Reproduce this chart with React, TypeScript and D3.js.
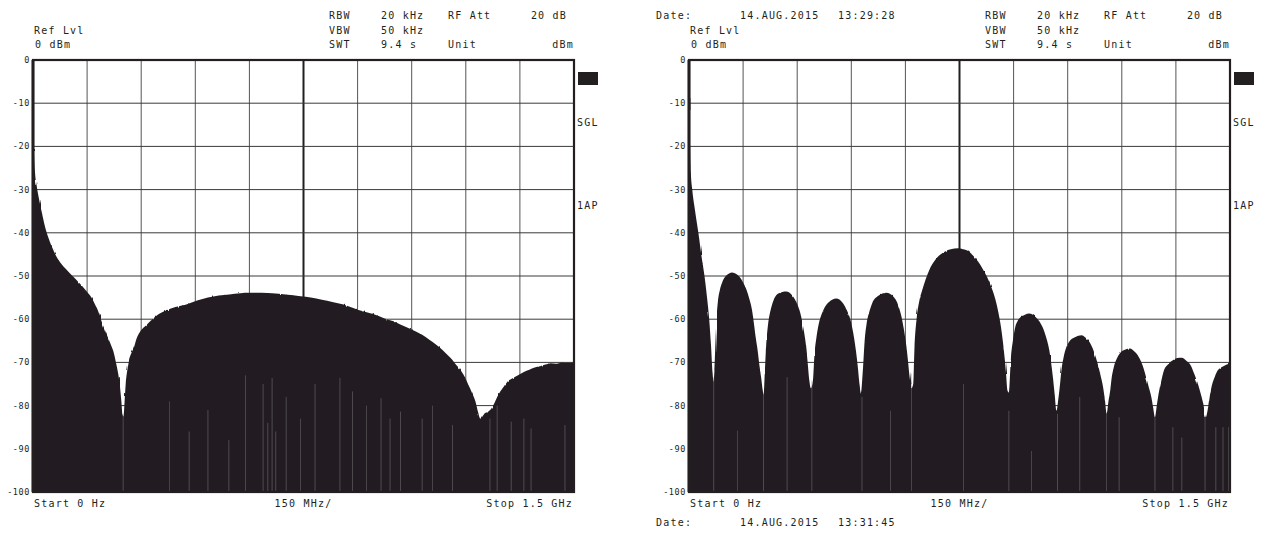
import React, { useEffect, useRef } from 'react';
import * as d3 from 'd3';

const INK = '#231f20';
const FONT = "'DejaVu Sans Mono', monospace";

// level axis (dBm) and frequency divisions (MHz)
const yTicks = [0, -10, -20, -30, -40, -50, -60, -70, -80, -90, -100];
const freqTicks = [0, 150, 300, 450, 600, 750, 900, 1050, 1200, 1350, 1500];

// left trace: envelope of the max-hold spectrum
const leftFreq = [0, 1.5, 3, 5.5, 10, 17.5, 25, 33, 42, 52, 63, 75, 95, 116, 133, 149, 162, 172, 180, 188, 196, 204, 214, 223, 230, 236, 241, 245, 248, 251,
  254, 257, 262, 266, 272, 280, 287, 296, 306, 316, 331, 345, 366, 395, 425, 455, 485, 515, 544, 575, 603, 635, 663, 700, 742, 770, 801, 830, 861, 880,
  900, 930, 960, 980, 1000, 1020, 1039, 1060, 1079, 1100, 1118, 1134, 1148, 1158, 1168, 1178, 1188, 1198, 1207, 1217, 1227, 1234, 1240, 1246, 1252, 1262,
  1270, 1277, 1287, 1296, 1306, 1316, 1331, 1346, 1361, 1376, 1391, 1406, 1421, 1436, 1451, 1466, 1481, 1500];
const leftLevel = [0, -15, -22, -26, -29, -32.5, -35.5, -38.5, -41, -43.2, -45.2, -46.8, -48.7, -50.5, -52, -53.6, -55, -56.6, -58, -60, -61.8, -63.5, -65.5, -67.5, -70, -72.5, -75.5, -79, -82, -82.5,
  -79, -75, -71.5, -69.5, -68, -66.5, -64.5, -63, -62, -61.2, -60, -59, -58.1, -57.2, -56.6, -55.7, -55, -54.5, -54.3, -54, -53.9, -53.9, -54, -54.3, -54.7, -55, -55.5, -56, -56.6, -57.2,
  -57.8, -58.5, -59.3, -60, -60.5, -61.3, -62, -62.8, -63.6, -64.8, -65.9, -67, -68.2, -69, -70, -71, -72.1, -73.5, -75.2, -77, -79.1, -81.5, -83, -82.5, -81.8, -81.4,
  -80.8, -79.8, -78, -76.7, -75.5, -74.4, -73.6, -72.9, -72.2, -71.7, -71.2, -70.9, -70.5, -70.2, -70.3, -70, -70.1, -70];

// left trace: columns where the trace does not reach the bottom
const leftGapFreq = [250, 379, 433, 485, 543, 589, 638, 651, 663, 673, 702, 742, 782, 851, 886, 925, 965, 990, 1019, 1079, 1108, 1163, 1267, 1287, 1326, 1361, 1381, 1475];
const leftGapTop = [-82, -79, -86, -81, -88, -73, -75, -84, -73.6, -86, -78, -83, -75, -73.6, -76.7, -80, -78.3, -83, -81.4, -83, -80, -84.5, -83, -80, -83.7, -83, -85.3, -84.5];

// right trace: sinc-like lobes
const rightFreq = [0, 1.5, 3, 5, 9, 17, 26, 34, 43, 50, 56, 61, 65.5, 68, 70.5, 75.5, 80, 85.4, 92, 100.3, 110, 120.2, 130, 140, 150, 159.9, 168, 174.8, 180, 184.8,
  190, 194.7, 200, 204.6, 207, 209.6, 214, 219.5, 226, 234.5, 249.3, 269.2, 289, 300, 308.9, 317, 323.8, 329, 333.7, 338, 343.6, 348, 353.5, 360, 368.5, 378,
  388.3, 408.1, 428, 438, 447.8, 455, 462.7, 468, 472.7, 477, 482.6, 487, 492.5, 500, 507.4, 525, 547.2, 567, 578, 587, 595, 601.8, 607, 611.7, 616.6,
  621.6, 625, 631.6, 638, 646.5, 656, 666.3, 680, 696.1, 710, 725.9, 745.8, 760, 775.6, 790, 805.4, 818, 830.2, 841, 850.1, 858, 865, 870, 875, 879, 883,
  887, 892.7, 898, 904.6, 912, 919.5, 930, 944.4, 955, 964.2, 975, 984.1, 992, 999, 1004, 1008.9, 1014, 1018.8, 1024, 1028.8, 1033, 1038.7, 1045, 1053.6,
  1070, 1088.4, 1100, 1113.2, 1124, 1133.1, 1141, 1148, 1153, 1158, 1163, 1167.9, 1172, 1177.8, 1187, 1197.7, 1210, 1222.5, 1235, 1247.4, 1258, 1267.2,
  1275, 1282.1, 1287, 1292, 1297, 1301.9, 1309, 1316.8, 1328, 1341.6, 1354, 1366.4, 1379, 1391.2, 1401, 1411.1, 1419, 1426, 1433, 1437, 1440.9, 1445,
  1450.8, 1458, 1465.7, 1475, 1485.6, 1493, 1500];
const rightLevel = [0, -12, -20, -26, -30, -35, -40, -45, -50, -55, -60, -66, -72.5, -74.5, -72, -61, -56, -53.3, -51.5, -50.2, -49.5, -49.2, -49.5, -50.2, -51.5, -53.3, -55.5, -57.9, -61, -64.1,
  -67, -70.3, -73.5, -76.5, -77.5, -73.4, -66, -61, -58, -55.6, -54, -53.6, -54.8, -56.5, -58.7, -62, -65.7, -70, -74.2, -76, -74.2, -68, -64.1, -61, -58.7, -57,
  -56, -55.2, -56.4, -58, -60.2, -63, -67.2, -71, -75, -77, -71.1, -65, -61, -58.3, -56.4, -54.6, -53.9, -54.8, -56.3, -58.7, -62, -65.7, -69.5, -73.4, -76,
  -75, -67, -59.5, -56, -53.3, -50.8, -48.6, -46.6, -45.1, -44.3, -43.8, -43.6, -43.8, -44.3, -45.5, -47.1, -48.9, -50.9, -53.2, -55.6, -58.5, -61.8, -65, -68.8, -72.5, -76.5,
  -77, -68.8, -65, -61.8, -60.3, -59.5, -59, -58.7, -59.1, -59.8, -61, -62.6, -64.7, -67.2, -70, -73.4, -77.5, -81.2, -78.5, -75, -71.5, -68.8, -66.8, -65.3,
  -64.2, -63.7, -64.3, -65.7, -67.8, -70.3, -73, -75.7, -78.5, -81.9, -79, -76.5, -73.5, -71.1, -69, -67.6, -67, -66.8, -67.5, -68.8, -70.8, -73.4,
  -75.8, -78.1, -80.5, -82.7, -80, -77.3, -74.5, -71.9, -70.5, -69.5, -69, -68.9, -69.6, -70.7, -72.7, -75, -77.3, -79.6, -82.7, -81.5, -79.6, -77.3,
  -75, -73.3, -71.9, -71.2, -70.7, -70.4, -70.3];

const rightGapFreq = [68.5, 135, 206.6, 272, 340.6, 479.6, 559, 616.6, 760.7, 886.8, 949.3, 1021.8, 1083.4, 1158, 1192.6, 1292, 1341.6, 1366.4, 1430.9, 1460.7, 1480.6, 1495.5];
const rightGapTop = [-73.4, -85.8, -77.3, -73.4, -74.2, -78, -81.2, -72.6, -75, -81.2, -90.5, -81.9, -78, -81.9, -82.7, -82.7, -85, -87.4, -82.7, -85, -85, -85];

// instrument settings text
const settingNames = ['RBW', 'VBW', 'SWT'];
const settingValues = ['20 kHz', '50 kHz', '9.4 s'];
const topDate = ['Date:', '14.AUG.2015', '13:29:28'];
const bottomDate = ['Date:', '14.AUG.2015', '13:31:45'];

const Y_TOP = 60;
const Y_BOTTOM = 492;

function drawPanel(root, p) {
  const g = root.append('g');
  const x = d3.scaleLinear().domain([0, 1500]).range([p.x0, p.x1]);
  const y = d3.scaleLinear().domain([-100, 0]).range([Y_BOTTOM, Y_TOP]);

  const text = (tx, ty, s, anchor = 'start', size = 10, ls = 1.2) =>
    g.append('text').attr('x', tx).attr('y', ty).attr('text-anchor', anchor)
      .attr('font-family', FONT).attr('font-size', size).attr('letter-spacing', ls)
      .attr('fill', INK).style('white-space', 'pre').text(s);

  // clip for the trace
  root.select('defs').append('clipPath').attr('id', p.id)
    .append('rect').attr('x', p.x0).attr('y', y(0))
    .attr('width', p.x1 - p.x0).attr('height', y(-100) - y(0));

  // grid
  g.selectAll('.vgrid').data(freqTicks.slice(1, -1)).enter().append('line')
    .attr('x1', (d) => x(d)).attr('x2', (d) => x(d))
    .attr('y1', y(0)).attr('y2', y(-100))
    .attr('stroke', (d) => (d === 750 ? INK : '#555'))
    .attr('stroke-width', (d) => (d === 750 ? 2 : 1));
  g.selectAll('.hgrid').data(yTicks.slice(1, -1)).enter().append('line')
    .attr('x1', p.x0).attr('x2', p.x1)
    .attr('y1', (d) => y(d)).attr('y2', (d) => y(d))
    .attr('stroke', '#3a3a3a').attr('stroke-width', 1);

  // trace
  const pts = p.freq.map((f, i) => [f, p.level[i]]);
  const area = d3.area()
    .x((d) => x(d[0]))
    .y0(y(-100) + 4)
    .y1((d) => y(d[1]))
    .curve(d3.curveMonotoneX);
  g.append('path').datum(pts).attr('d', area).attr('fill', INK)
    .attr('filter', 'url(#rough)').attr('clip-path', `url(#${p.id})`);

  g.selectAll('.gap').data(p.gapFreq).enter().append('line')
    .attr('x1', (d) => x(d)).attr('x2', (d) => x(d))
    .attr('y1', y(-100)).attr('y2', (d, i) => y(p.gapTop[i]))
    .attr('stroke', '#8c8c8c').attr('stroke-width', 0.6).attr('opacity', 0.7);

  // frame
  g.append('rect')
    .attr('x', p.x0).attr('y', y(0))
    .attr('width', p.x1 - p.x0).attr('height', y(-100) - y(0))
    .attr('fill', 'none').attr('stroke', INK).attr('stroke-width', 2.2);
  g.append('line').attr('x1', p.x0).attr('x2', p.x0).attr('y1', y(0)).attr('y2', y(-100))
    .attr('stroke', INK).attr('stroke-width', 3);

  // level axis
  const ax = g.append('g').attr('transform', `translate(${p.x0 - 1},0)`)
    .call(d3.axisLeft(y).tickValues(yTicks).tickSize(0).tickPadding(2).tickFormat((d) => String(d)));
  ax.select('.domain').remove();
  ax.selectAll('text').attr('font-family', FONT).attr('font-size', 8.5)
    .attr('letter-spacing', 0.6).attr('fill', INK).attr('dy', '0.3em');

  // header
  const rows = [19, 34, 48];
  settingNames.forEach((s, i) => {
    text(p.x0 + 296, rows[i], s);
    text(p.x0 + 348, rows[i], settingValues[i]);
  });
  text(p.x0 + 415, rows[0], 'RF Att');
  text(p.x1 - 7, rows[0], '20 dB', 'end');
  text(p.x0 + 415, rows[2], 'Unit');
  text(p.x1, rows[2], 'dBm', 'end');
  text(p.x0 + 1, rows[1], 'Ref Lvl');
  text(p.x0 + 2, rows[2], '0 dBm');
  if (p.dateTop) {
    text(p.x0 - 33, rows[0], p.dateTop[0]);
    text(p.x0 + 51, rows[0], p.dateTop[1]);
    text(p.x0 + 149, rows[0], p.dateTop[2]);
  }

  // footer
  text(p.x0 + 1, 507, 'Start 0 Hz');
  text(x(750), 507, '150 MHz/', 'middle');
  text(p.x1 - 1, 507, 'Stop 1.5 GHz', 'end');
  if (p.dateBottom) {
    text(p.x0 - 33, 526, p.dateBottom[0]);
    text(p.x0 + 51, 526, p.dateBottom[1]);
    text(p.x0 + 149, 526, p.dateBottom[2]);
  }

  // side annotations
  g.append('rect').attr('x', p.x1 + 4).attr('y', y(0) + 12).attr('width', 20).attr('height', 13).attr('fill', INK);
  text(p.x1 + 3, 126, 'SGL');
  text(p.x1 + 3, 209, '1AP');
}

const App = () => {
  const svgRef = useRef(null);

  useEffect(() => {
    document.body.style.margin = '0';
    const svg = d3.select(svgRef.current);
    svg.selectAll('*').remove();
    svg.append('rect').attr('width', 1263).attr('height', 533).attr('fill', '#fff');

    // slight ragged edge on the trace, like the analyzer's noisy envelope
    const defs = svg.append('defs');
    const filter = defs.append('filter').attr('id', 'rough')
      .attr('x', '-2%').attr('y', '-2%').attr('width', '104%').attr('height', '104%');
    filter.append('feTurbulence').attr('type', 'fractalNoise').attr('baseFrequency', '0.5 0.03')
      .attr('numOctaves', 1).attr('seed', 4).attr('result', 'noise');
    filter.append('feDisplacementMap').attr('in', 'SourceGraphic').attr('in2', 'noise')
      .attr('scale', 2.4).attr('xChannelSelector', 'R').attr('yChannelSelector', 'G');

    drawPanel(svg, { id: 'clipL', x0: 33, x1: 574, freq: leftFreq, level: leftLevel, gapFreq: leftGapFreq, gapTop: leftGapTop });
    drawPanel(svg, {
      id: 'clipR', x0: 689, x1: 1230, freq: rightFreq, level: rightLevel, gapFreq: rightGapFreq, gapTop: rightGapTop,
      dateTop: topDate, dateBottom: bottomDate,
    });
  }, []);

  return <svg ref={svgRef} width={1263} height={533} style={{ display: 'block' }}></svg>;
};

export default App;
